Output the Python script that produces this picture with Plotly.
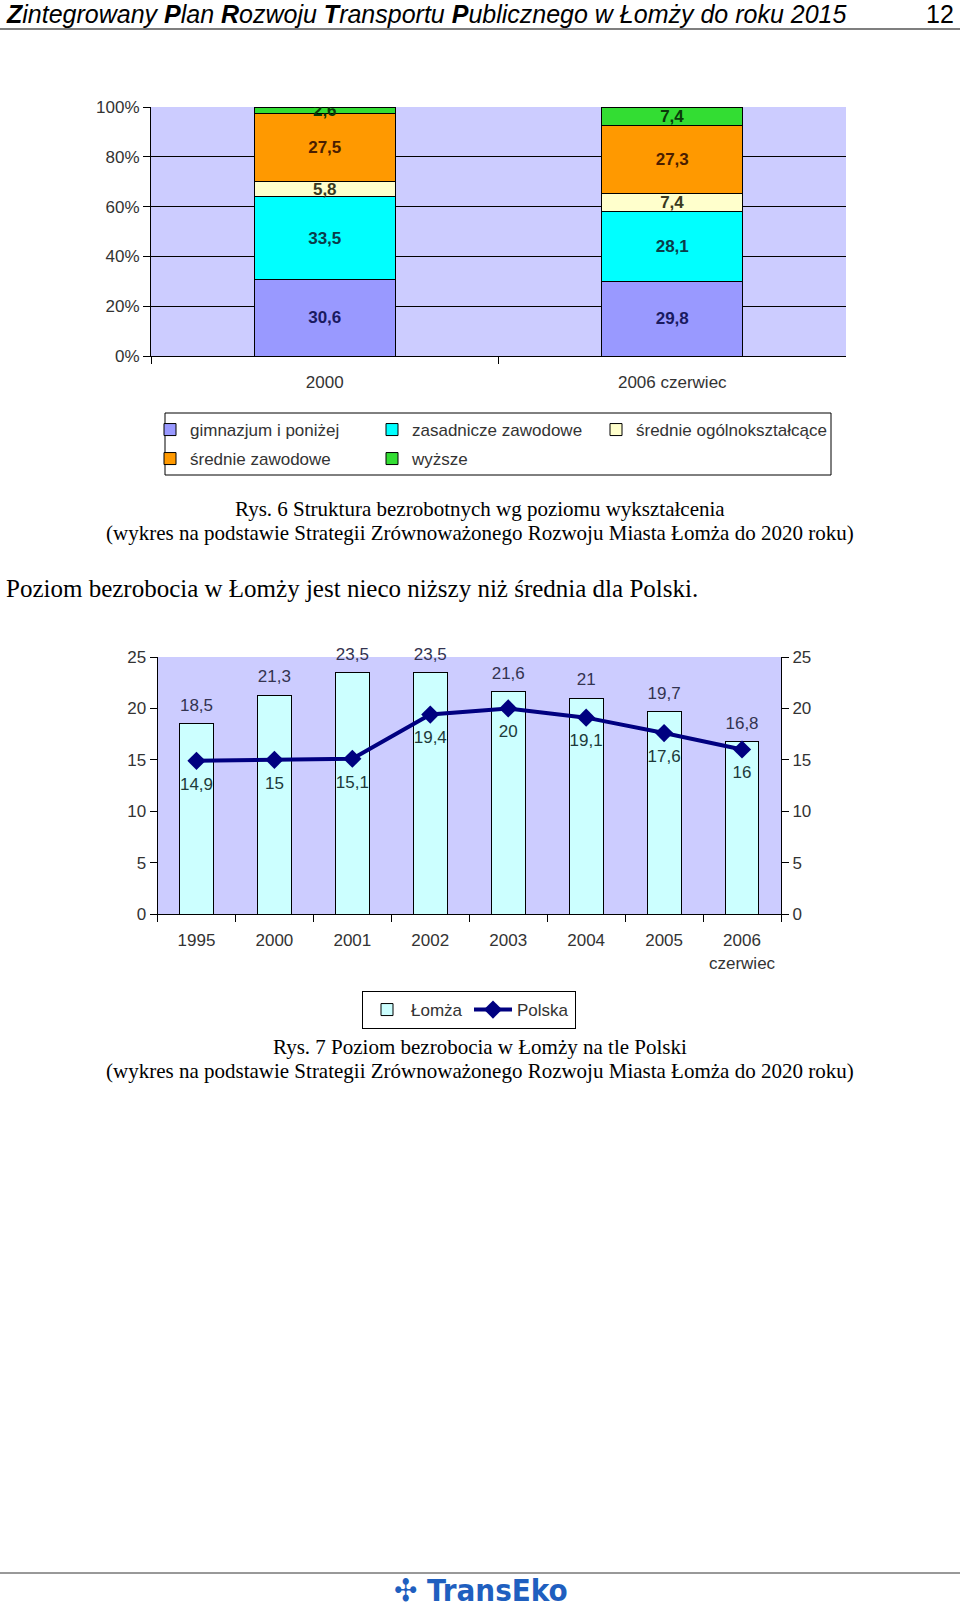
import plotly.graph_objects as go

W, H = 960, 1611

# ---------------- data: chart 1 (Rys. 6) ----------------
edu_categories = ["2000", "2006 czerwiec"]
edu_levels = ["gimnazjum i poniżej", "zasadnicze zawodowe", "średnie ogólnokształcące",
              "średnie zawodowe", "wyższe"]
gimnazjum = [30.6, 29.8]
zasadnicze = [33.5, 28.1]
srednie_ogolne = [5.8, 7.4]
srednie_zawodowe = [27.5, 27.3]
wyzsze = [2.6, 7.4]
pct_ticks = [0, 20, 40, 60, 80, 100]
pct_labels = ["0%", "20%", "40%", "60%", "80%", "100%"]
pct_grid = [20, 40, 60, 80]

# ---------------- data: chart 2 (Rys. 7) ----------------
years = ["1995", "2000", "2001", "2002", "2003", "2004", "2005", "2006<br>czerwiec"]
lomza = [18.5, 21.3, 23.5, 23.5, 21.6, 21, 19.7, 16.8]
polska = [14.9, 15, 15.1, 19.4, 20, 19.1, 17.6, 16]
rate_ticks = [0, 5, 10, 15, 20, 25]


def fmt(v):
    return f"{v:g}".replace(".", ",")


def px_x(x):
    return x / W


def px_y(y):
    return 1 - y / H


SANS = "Liberation Sans, Arial, sans-serif"
SERIF = "Liberation Serif, Times New Roman, serif"
TXT = "#333333"

fig = go.Figure()

series1 = [gimnazjum, zasadnicze, srednie_ogolne, srednie_zawodowe, wyzsze]
colors1 = ["#9999FF", "#00FFFF", "#FFFFCC", "#FF9900", "#33DD33"]
tcolors1 = ["#1a1a60", "#0a3c4a", "#3a3a20", "#4a1e00", "#0a3a0a"]
legend_of = ["legend", "legend", "legend4", "legend3", "legend3"]
for name, vals, c, tc, lg in zip(edu_levels, series1, colors1, tcolors1, legend_of):
    fig.add_trace(go.Bar(
        x=edu_categories, y=vals, name=name, xaxis="x", yaxis="y",
        marker=dict(color=c, line=dict(color="black", width=1)),
        width=0.405,
        text=[fmt(v) for v in vals], textposition="inside",
        insidetextanchor="middle", constraintext="none",
        textfont=dict(family=SANS, size=17, color=tc, weight="bold"),
        legend=lg, hoverinfo="skip",
    ))

# invisible helper trace for the grid axis
fig.add_trace(go.Scatter(x=edu_categories, y=[None, None], xaxis="x", yaxis="y3",
                         showlegend=False, hoverinfo="skip"))

fig.add_trace(go.Bar(
    x=years, y=lomza, name="Łomża", xaxis="x2", yaxis="y2",
    marker=dict(color="#CCFFFF", line=dict(color="black", width=1)),
    width=0.435, legend="legend2", hoverinfo="skip",
))
# value labels above the bars
fig.add_trace(go.Scatter(
    x=years, y=lomza, xaxis="x2", yaxis="y2", mode="markers+text",
    marker=dict(size=12, opacity=0), showlegend=False, hoverinfo="skip",
    text=[fmt(v) for v in lomza], textposition="top center", cliponaxis=False,
    textfont=dict(family=SANS, size=17, color="#333350"),
))
fig.add_trace(go.Scatter(
    x=years, y=polska, name="Polska", xaxis="x2", yaxis="y4",
    mode="lines+markers",
    line=dict(color="#000080", width=4),
    marker=dict(symbol="diamond", size=14, color="#000080"),
    legend="legend2", hoverinfo="skip", cliponaxis=False,
))
# value labels below the line points
fig.add_trace(go.Scatter(
    x=years, y=polska, xaxis="x2", yaxis="y4", mode="markers+text",
    marker=dict(size=24, opacity=0), showlegend=False, hoverinfo="skip",
    text=[fmt(v) for v in polska], textposition="bottom center", cliponaxis=False,
    textfont=dict(family=SANS, size=17, color="#203a3a"),
))

axfont = dict(family=SANS, size=17, color=TXT)
common_ax = dict(ticks="outside", ticklen=7, tickcolor="black", showline=True,
                 linecolor="black", linewidth=1, showgrid=False, zeroline=False,
                 tickfont=axfont, automargin=False, fixedrange=True)
legfont = dict(family=SANS, size=17, color=TXT)
leg_row = dict(xanchor="left", yanchor="middle", orientation="h",
               entrywidth=177, entrywidthmode="pixels", traceorder="normal",
               bgcolor="rgba(0,0,0,0)", borderwidth=0, font=legfont)

fig.update_layout(
    width=W, height=H, autosize=False,
    margin=dict(l=0, r=0, t=0, b=0, autoexpand=False),
    paper_bgcolor="white", plot_bgcolor="#CCCCFF",
    barmode="stack", showlegend=True,
    xaxis=dict(domain=[px_x(151), px_x(846)], anchor="y", type="category",
               range=[-0.5, len(edu_categories) - 0.5],
               tickson="boundaries", ticklabelstandoff=11, **common_ax),
    yaxis=dict(domain=[px_y(356), px_y(107)], anchor="x", range=[0, 100],
               tickvals=pct_ticks, ticktext=pct_labels, **common_ax),
    yaxis3=dict(overlaying="y", anchor="x", range=[0, 100], tickvals=pct_grid,
                showgrid=True, gridcolor="black", gridwidth=1, automargin=False,
                showticklabels=False, ticks="", zeroline=False, showline=False),
    xaxis2=dict(domain=[px_x(157.5), px_x(781)], anchor="y2", type="category",
                range=[-0.5, len(years) - 0.5],
                tickson="boundaries", ticklabelstandoff=11, **common_ax),
    yaxis2=dict(domain=[px_y(914), px_y(657)], anchor="x2", range=[0, 25],
                tickvals=rate_ticks, **common_ax),
    yaxis4=dict(overlaying="y2", anchor="x2", side="right", range=[0, 25],
                tickvals=rate_ticks, **common_ax),
    legend=dict(x=px_x(150), y=px_y(430), **leg_row),
    legend4=dict(x=px_x(596), y=px_y(430), xanchor="left", yanchor="middle",
                 orientation="h", traceorder="normal", bgcolor="rgba(0,0,0,0)",
                 borderwidth=0, font=legfont),
    legend3=dict(x=px_x(150), y=px_y(459), **leg_row),
    legend2=dict(x=px_x(362), y=px_y(991), xanchor="left", yanchor="top",
                 orientation="h", traceorder="normal", bgcolor="white",
                 itemwidth=38, entrywidth=53, entrywidthmode="pixels",
                 bordercolor="black", borderwidth=1, font=legfont),
)

header = ("<i><b>Z</b>integrowany <b>P</b>lan <b>R</b>ozwoju <b>T</b>ransportu "
          "<b>P</b>ublicznego w Łomży do roku 2015</i>")
anns = [
    dict(text=header, x=px_x(4), y=px_y(14), xanchor="left", yanchor="middle",
         font=dict(family=SANS, size=25, color="black")),
    dict(text="12", x=px_x(956), y=px_y(14), xanchor="right", yanchor="middle",
         font=dict(family=SANS, size=25, color="black")),
    dict(text="Rys. 6 Struktura bezrobotnych wg poziomu wykształcenia", x=0.5, y=px_y(509),
         xanchor="center", yanchor="middle", font=dict(family=SERIF, size=21, color="black")),
    dict(text="(wykres na podstawie Strategii Zrównoważonego Rozwoju Miasta Łomża do 2020 roku)",
         x=0.5, y=px_y(533), xanchor="center", yanchor="middle",
         font=dict(family=SERIF, size=21, color="black")),
    dict(text="Poziom bezrobocia w Łomży jest nieco niższy niż średnia dla Polski.",
         x=px_x(4), y=px_y(588), xanchor="left", yanchor="middle",
         font=dict(family=SERIF, size=25, color="black")),
    dict(text="Rys. 7 Poziom bezrobocia w Łomży na tle Polski", x=0.5, y=px_y(1047),
         xanchor="center", yanchor="middle", font=dict(family=SERIF, size=21, color="black")),
    dict(text="(wykres na podstawie Strategii Zrównoważonego Rozwoju Miasta Łomża do 2020 roku)",
         x=0.5, y=px_y(1071), xanchor="center", yanchor="middle",
         font=dict(family=SERIF, size=21, color="black")),
    dict(text="<b>✣ TransEko</b>", x=px_x(481), y=px_y(1590), xanchor="center", yanchor="middle",
         font=dict(family="DejaVu Sans Condensed, DejaVu Sans", size=31, color="#1f5fbf")),
]
for a in anns:
    a.update(xref="paper", yref="paper", showarrow=False)
fig.update_layout(annotations=anns)

fig.update_layout(shapes=[
    dict(type="line", xref="paper", yref="paper", x0=0, x1=1, y0=px_y(29), y1=px_y(29),
         line=dict(color="#555555", width=1.5)),
    dict(type="line", xref="paper", yref="paper", x0=0, x1=1, y0=px_y(1573), y1=px_y(1573),
         line=dict(color="#333333", width=1)),
    # legend frame of chart 1
    dict(type="rect", xref="paper", yref="paper", x0=px_x(165), x1=px_x(831),
         y0=px_y(475), y1=px_y(413), line=dict(color="black", width=1),
         fillcolor="rgba(0,0,0,0)", layer="below"),
])

fig.write_html("out.html", config={"displayModeBar": False},
               post_script="document.body.style.margin='0';"
                           "document.documentElement.style.overflow='hidden';")
